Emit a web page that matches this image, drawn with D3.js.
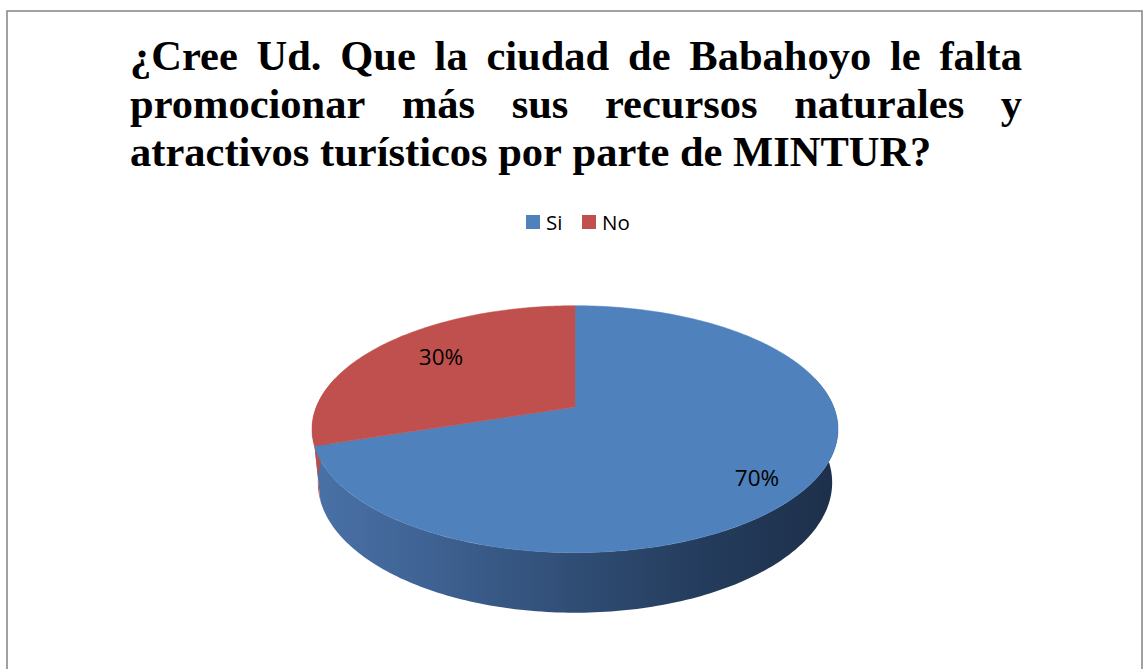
<!DOCTYPE html>
<html>
<head>
<meta charset="utf-8">
<script src="https://cdn.jsdelivr.net/npm/d3@7"></script>
<style>
  html, body { margin: 0; padding: 0; background: #fff; }
  svg { display: block; }
</style>
</head>
<body>
<svg id="chart" width="1144" height="669"></svg>
<script>
// chart data
const titleLines = [
  "¿Cree Ud. Que la ciudad de Babahoyo le falta",
  "promocionar más sus recursos naturales y",
  "atractivos turísticos por parte de MINTUR?"
];
const categories = ["Si", "No"];
const values = [70, 30];
const colors = ["#4f81bd", "#c0504d"];

const svg = d3.select("#chart");

// frame
svg.append("rect")
  .attr("x", 7).attr("y", 11)
  .attr("width", 1135).attr("height", 700)
  .attr("fill", "#fff")
  .attr("stroke", "#8a8a8a")
  .attr("stroke-width", 1.6);

// title, justified like the original text box
const titleLeft = 130, titleRight = 1022;
const titleG = svg.append("g")
  .attr("font-family", "'Liberation Serif', 'Times New Roman', serif")
  .attr("font-weight", "bold")
  .attr("font-size", 42.5)
  .attr("fill", "#000");

titleLines.forEach((line, i) => {
  const y = 70 + i * 48;
  const words = line.split(" ");
  const last = i === titleLines.length - 1;
  const nodes = words.map(w => titleG.append("text").attr("y", y).text(w));
  const widths = nodes.map(n => n.node().getComputedTextLength());
  const total = d3.sum(widths);
  const space = last ? 10.6 : (titleRight - titleLeft - total) / (words.length - 1);
  let x = titleLeft;
  nodes.forEach((n, j) => {
    n.attr("x", x);
    x += widths[j] + space;
  });
});

// legend
const legend = svg.append("g")
  .attr("font-family", "'Open Sans', sans-serif")
  .attr("font-size", 20.5);
const legendX = d3.scalePoint().domain(categories).range([526, 582]);
categories.forEach((c, i) => {
  const g = legend.append("g").attr("transform", `translate(${legendX(c)},215)`);
  g.append("rect").attr("width", 14).attr("height", 14).attr("fill", colors[i]);
  g.append("text").attr("x", 20).attr("y", 14.5).attr("fill", "#000").text(c);
});

// 3D pie with perspective
const apexX = 575, apexY = 407;
const focal = 1440;      // focal length / cos(tilt)
const dist = 5.566;      // camera distance / cos(tilt)
const sinT = 0.4619, cosT = 0.8869, tanT = sinT / cosT;
const depth = 0.2343;    // thickness in radius units

function project(a, level, f = 1) {
  const X = f * Math.sin(a), Z = f * Math.cos(a);
  const w = dist + Z - level * tanT;
  return [apexX + X * focal / w, apexY - (Z * sinT + level * cosT) * focal / w];
}

const pie = d3.pie().sort(null).value(d => d)(values);
const line = d3.line();
const step = Math.PI / 180;

function arcPoints(a0, a1, level) {
  const n = Math.max(2, Math.ceil((a1 - a0) / step));
  return d3.range(n + 1).map(k => project(a0 + (a1 - a0) * k / n, level));
}

// wall gradients
const defs = svg.append("defs");
const wallStops = [
  ["#4a72a8", "#b8504d"],
  ["#3d6090", "#9e4543"],
  ["#304d74", "#7f3836"],
  ["#243c5c", "#622b2a"],
  ["#1d2f4a", "#4e2221"]
];
colors.forEach((c, i) => {
  const g = defs.append("linearGradient")
    .attr("id", "wall" + i)
    .attr("gradientUnits", "userSpaceOnUse")
    .attr("x1", 312).attr("x2", 838).attr("y1", 0).attr("y2", 0);
  wallStops.forEach((s, k) => {
    g.append("stop")
      .attr("offset", k / (wallStops.length - 1))
      .attr("stop-color", s[i]);
  });
});

const lo = Math.PI / 2 - 0.25, hi = 3 * Math.PI / 2 + 0.25;
const pieG = svg.append("g");

// side walls
pie.forEach((d, i) => {
  const a0 = Math.max(d.startAngle, lo), a1 = Math.min(d.endAngle, hi);
  if (a1 <= a0) return;
  const pts = arcPoints(a0, a1, 0).concat(arcPoints(a0, a1, -depth).reverse());
  pieG.append("path")
    .attr("d", line(pts) + "Z")
    .attr("fill", `url(#wall${i})`);
});

// top faces
pie.forEach((d, i) => {
  const pts = [[apexX, apexY]].concat(arcPoints(d.startAngle, d.endAngle, 0));
  pieG.append("path")
    .attr("d", line(pts) + "Z")
    .attr("fill", colors[i])
    .attr("stroke", colors[i])
    .attr("stroke-width", 0.5);
});

// data labels
const total = d3.sum(values);
const fmt = d3.format(".0%");
pie.forEach((d, i) => {
  const mid = (d.startAngle + d.endAngle) / 2;
  const [x, y] = project(mid, 0, 0.75);
  svg.append("text")
    .attr("x", x + 11.5)
    .attr("y", apexY + (y - apexY) * 1.14 + 5.7)
    .attr("dy", "0.36em")
    .attr("text-anchor", "middle")
    .attr("font-family", "'Open Sans', sans-serif")
    .attr("font-size", 22.5)
    .attr("fill", "#000")
    .text(fmt(values[i] / total));
});
</script>
</body>
</html>
